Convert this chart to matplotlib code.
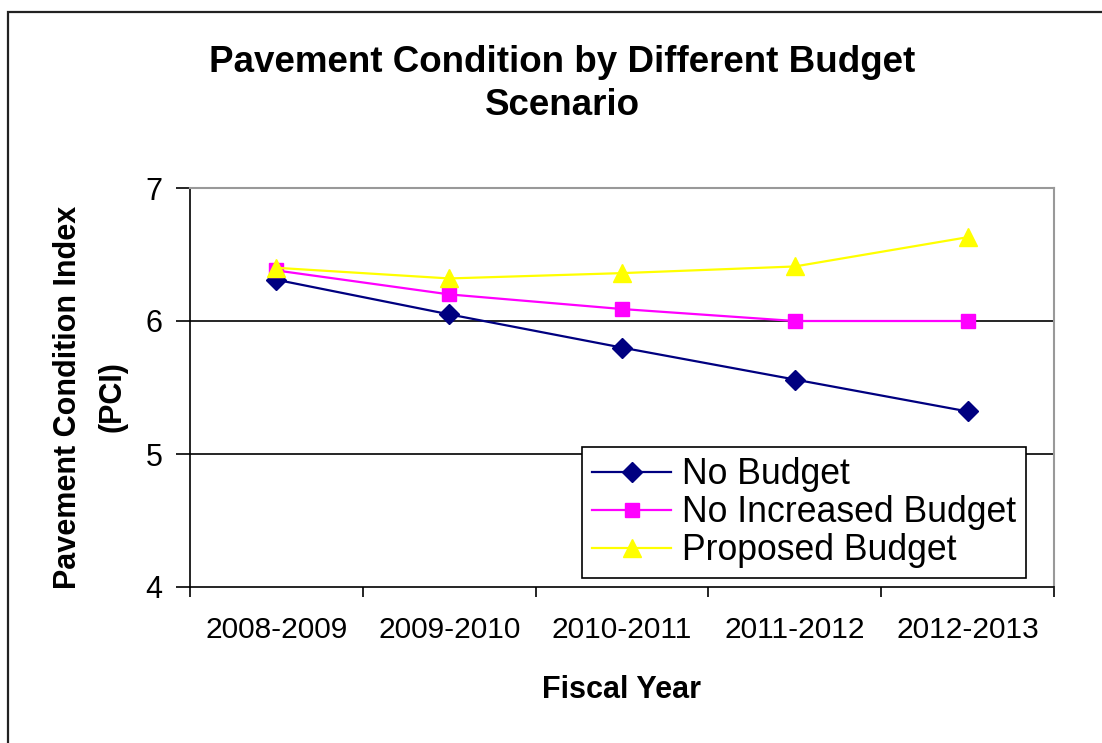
import matplotlib.pyplot as plt
from matplotlib.patches import Rectangle

years = ['2008-2009', '2009-2010', '2010-2011', '2011-2012', '2012-2013']
no_budget = [6.31, 6.05, 5.80, 5.56, 5.32]
no_increase = [6.38, 6.20, 6.09, 6.00, 6.00]
proposed = [6.40, 6.32, 6.36, 6.41, 6.63]

plt.rcParams['font.family'] = ['Liberation Sans', 'DejaVu Sans']

W, H = 1102, 743
fig = plt.figure(figsize=(W / 100, H / 100), dpi=100)

# outer chart frame (runs off the right and bottom edge)
fig.patches.append(Rectangle((8 / W, -0.05), 1.1, 1 - 12 / H + 0.05,
                             transform=fig.transFigure, fill=False,
                             edgecolor='#222222', linewidth=1.6, clip_on=False))

ax = fig.add_axes([190 / W, 1 - 587 / H, (1054 - 190) / W, (587 - 188) / H])

x = range(len(years))
ax.plot(x, no_budget, color='#000080', marker='D', markersize=10, linewidth=1.6,
        label='No Budget', zorder=3)
ax.plot(x, no_increase, color='#FF00FF', marker='s', markersize=10, linewidth=1.6,
        label='No Increased Budget', zorder=3)
ax.plot(x, proposed, color='#FFFF00', marker='^', markersize=13, linewidth=1.6,
        label='Proposed Budget', zorder=3)

ax.set_xlim(-0.5, len(years) - 0.5)
ax.set_ylim(4, 7)
ax.set_yticks([4, 5, 6, 7])
ax.set_xticks(list(x))
ax.set_xticklabels(years)
ax.set_xticks([i - 0.5 for i in range(len(years) + 1)], minor=True)
ax.tick_params(axis='x', which='major', length=0, pad=21, labelsize=21.5)
ax.tick_params(axis='x', which='minor', length=7, width=1.2, direction='out')
ax.tick_params(axis='y', length=10, width=1.2, pad=10, labelsize=22)

for v in [5, 6]:
    ax.axhline(v, color='#000000', linewidth=1.2, zorder=1)

for side in ['top', 'right']:
    ax.spines[side].set_color('#999999')
    ax.spines[side].set_linewidth(1.5)
for side in ['left', 'bottom']:
    ax.spines[side].set_color('#000000')
    ax.spines[side].set_linewidth(1.2)

fig.text(622 / W, 1 - 690 / H, 'Fiscal Year', ha='center', va='center',
         fontsize=22, fontweight='bold')
fig.text(90 / W, 1 - 397 / H, 'Pavement Condition Index\n(PCI)', ha='center',
         va='center', rotation=90, fontsize=22, fontweight='bold', linespacing=1.65)

fig.text(562 / W, 1 - 84 / H, 'Pavement Condition by Different Budget\nScenario',
         ha='center', va='center', fontsize=26.5, fontweight='bold', linespacing=1.32)

leg = ax.legend(loc='upper left', bbox_to_anchor=(582 / W, 1 - 447 / H),
                bbox_transform=fig.transFigure, borderaxespad=0, fancybox=False,
                edgecolor='#000000', framealpha=1, fontsize=25.7, handlelength=2.2,
                handletextpad=0.3, labelspacing=0.08, borderpad=0.29)
leg.get_frame().set_linewidth(1.2)

fig.savefig('out.png', dpi=100)
